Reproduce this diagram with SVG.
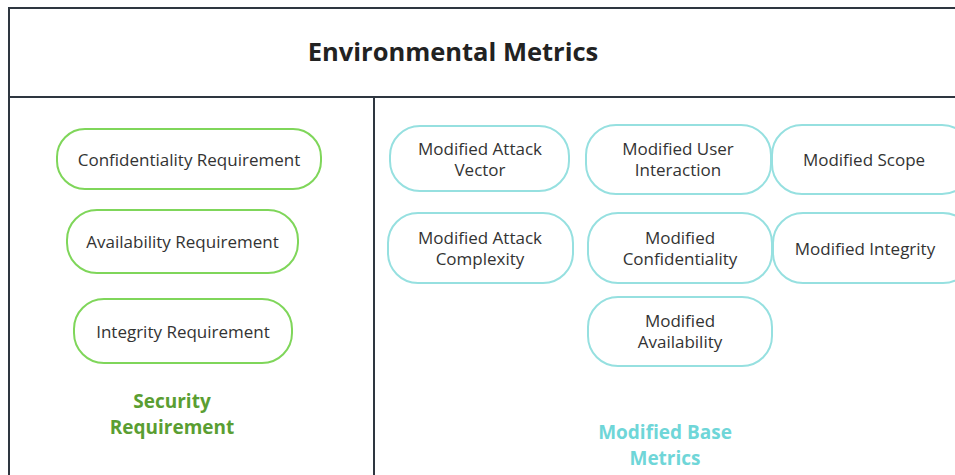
<svg xmlns="http://www.w3.org/2000/svg" width="955" height="475" viewBox="0 0 955 475">
<style>
.frame{fill:none;stroke:#2e3640;stroke-width:2}
.g{fill:#fff;stroke:#7fd65a;stroke-width:2}
.t{fill:#fff;stroke:#96e0e0;stroke-width:2}
.lbl{font-family:"Open Sans","Noto Sans",sans-serif;font-size:17px;fill:#333;text-anchor:middle}
.title{font-family:"Open Sans","Noto Sans",sans-serif;font-size:25.5px;font-weight:bold;fill:#222;text-anchor:middle}
.gh{font-family:"Open Sans","Noto Sans",sans-serif;font-size:19px;font-weight:bold;fill:#5a9e32;text-anchor:middle}
.th{font-family:"Open Sans","Noto Sans",sans-serif;font-size:19px;font-weight:bold;fill:#6fd6d8;text-anchor:middle}
</style>
<rect width="955" height="475" fill="#fff"/>
<g id="frame">
<rect class="frame" x="9" y="8" width="960" height="89"/>
<rect class="frame" x="9" y="97" width="365" height="400"/>
<rect class="frame" x="374" y="97" width="600" height="400"/>
<text class="title" x="453" y="61">Environmental Metrics</text>
</g>
<g id="security-requirement">
<text class="gh" x="172" y="408">Security</text>
<text class="gh" x="172" y="434">Requirement</text>
</g>
<g id="n-conf-req"><rect class="g" x="57" y="129" width="264" height="60" rx="28"/><text class="lbl" x="189" y="166">Confidentiality Requirement</text></g>
<g id="n-avail-req"><rect class="g" x="67" y="210" width="231" height="63" rx="30"/><text class="lbl" x="182.5" y="248">Availability Requirement</text></g>
<g id="n-int-req"><rect class="g" x="74" y="299" width="218" height="64" rx="30"/><text class="lbl" x="183" y="338">Integrity Requirement</text></g>
<g id="modified-base-metrics">
<text class="th" x="665" y="439">Modified Base</text>
<text class="th" x="665" y="465">Metrics</text>
</g>
<g id="n-mav"><rect class="t" x="390" y="126" width="179" height="65" rx="30"/><text class="lbl" x="480" y="155">Modified Attack</text><text class="lbl" x="480" y="176">Vector</text></g>
<g id="n-mui"><rect class="t" x="586" y="125" width="185" height="69" rx="30"/><text class="lbl" x="678" y="155">Modified User</text><text class="lbl" x="678" y="176">Interaction</text></g>
<g id="n-ms"><rect class="t" x="772" y="125" width="200" height="69" rx="30"/><text class="lbl" x="864" y="166">Modified Scope</text></g>
<g id="n-mac"><rect class="t" x="388" y="213" width="185" height="70" rx="30"/><text class="lbl" x="480" y="244">Modified Attack</text><text class="lbl" x="480" y="265">Complexity</text></g>
<g id="n-mc"><rect class="t" x="588" y="213" width="184" height="70" rx="30"/><text class="lbl" x="680" y="244">Modified</text><text class="lbl" x="680" y="265">Confidentiality</text></g>
<g id="n-mi"><rect class="t" x="773" y="213" width="200" height="70" rx="30"/><text class="lbl" x="865" y="255">Modified Integrity</text></g>
<g id="n-ma"><rect class="t" x="588" y="297" width="184" height="69" rx="30"/><text class="lbl" x="680" y="327">Modified</text><text class="lbl" x="680" y="348">Availability</text></g>
<g id="connectors"></g>
</svg>
